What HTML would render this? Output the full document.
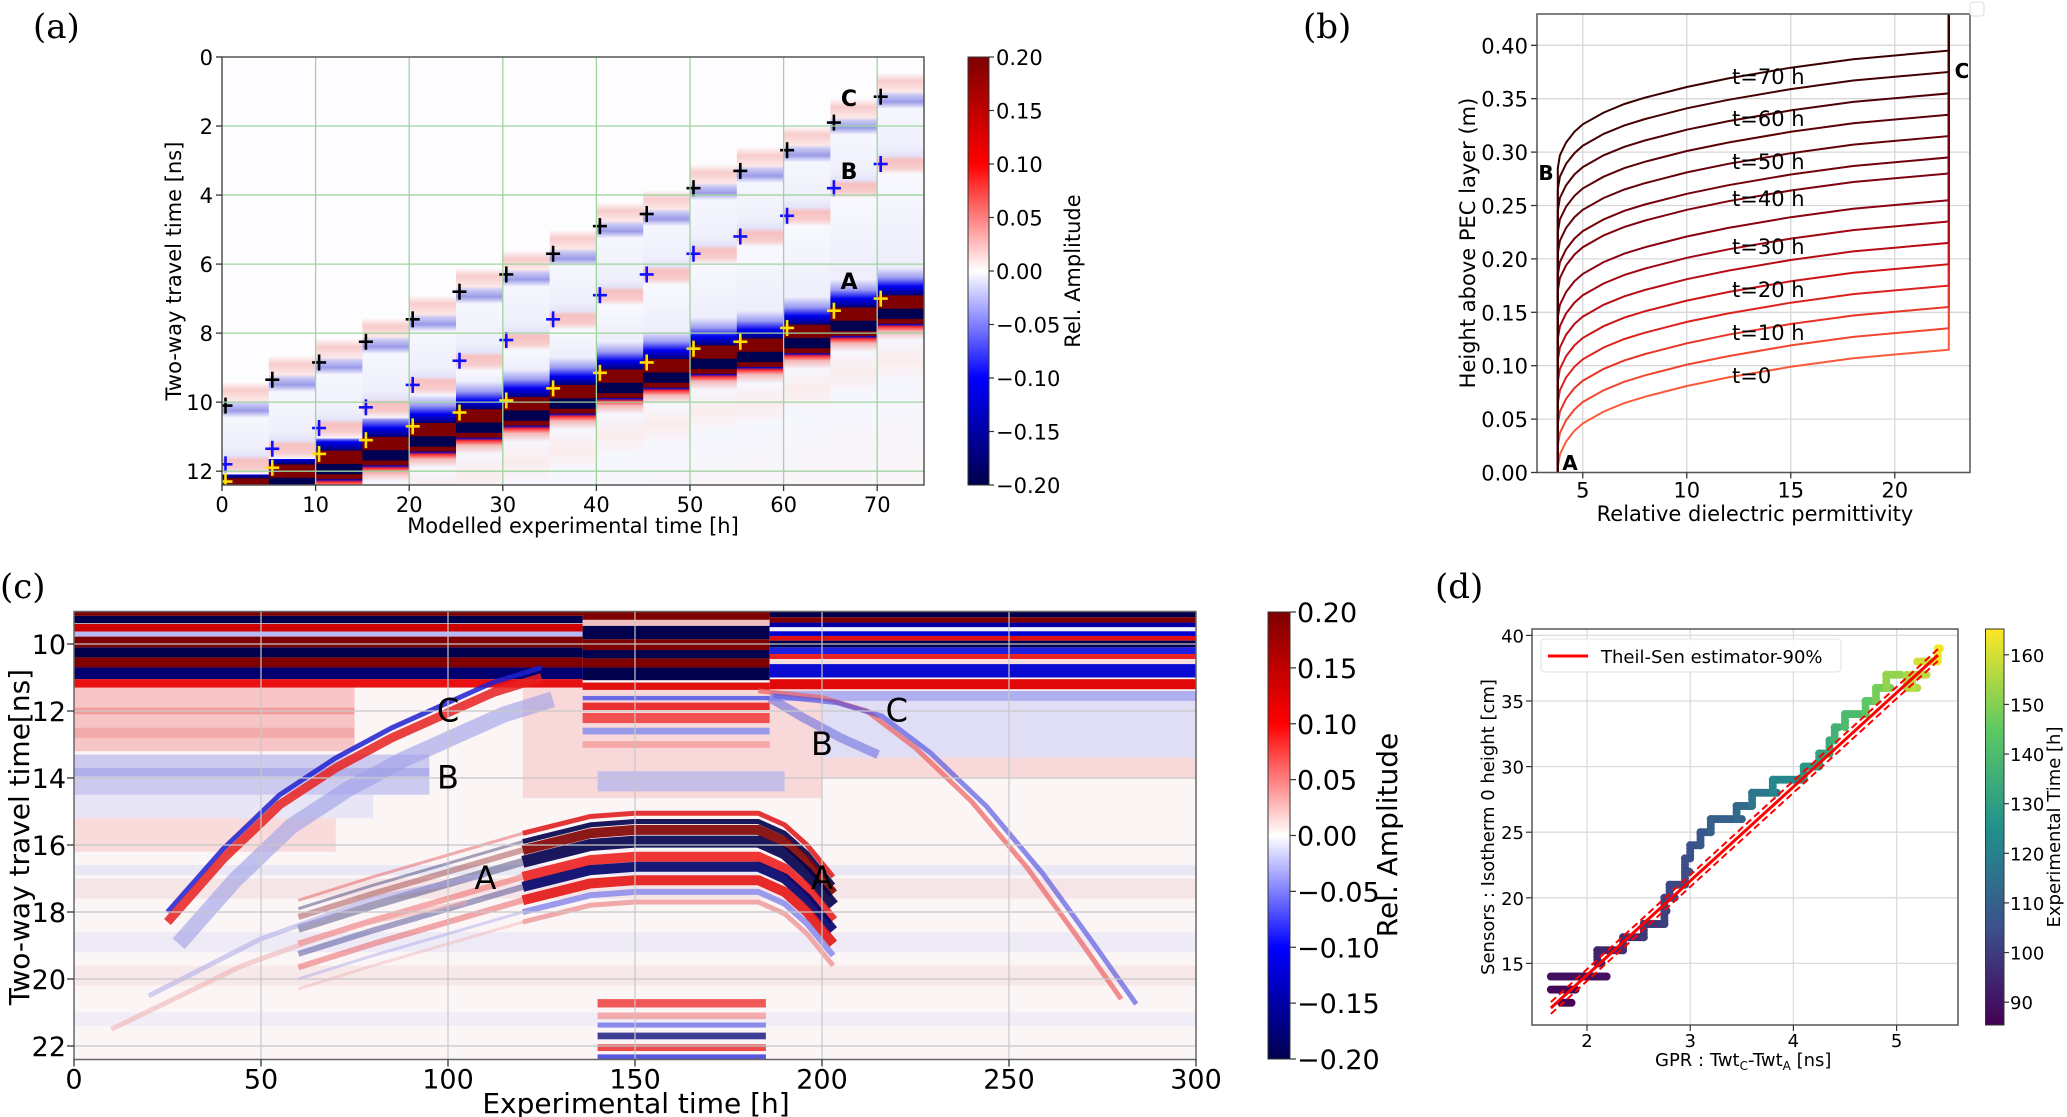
<!DOCTYPE html>
<html><head><meta charset="utf-8"><title>GPR figure</title>
<style>
html,body{margin:0;padding:0;background:#fff;}
svg{display:block;}
text{font-family:"DejaVu Sans","Liberation Sans",sans-serif;fill:#000;}
.pl{font-family:"DejaVu Serif","Liberation Serif",serif;}
</style></head>
<body>
<svg id="fig" xmlns="http://www.w3.org/2000/svg" width="2067" height="1117" viewBox="0 0 2067 1117">
<defs id="defs"></defs>
</svg>
<script>
// ---------- DATA ----------
// Panel (a): picked two-way travel times (ns) per modelled column
const aColumns = [0,1,2,3,4,5,6,7,8,9,10,11,12,13,14];
const aPickC = [10.1,9.35,8.85,8.25,7.6,6.8,6.3,5.7,4.9,4.55,3.8,3.3,2.7,1.9,1.15];
const aPickB = [11.8,11.35,10.75,10.15,9.5,8.8,8.2,7.6,6.9,6.3,5.7,5.2,4.6,3.8,3.1];
const aPickA = [12.3,11.9,11.5,11.1,10.7,10.3,9.95,9.6,9.15,8.85,8.45,8.25,7.85,7.35,7.0];
const aXTicks = [0,10,20,30,40,50,60,70];
const aYTicks = [0,2,4,6,8,10,12];
const cbTicks = [0.20,0.15,0.10,0.05,0.00,-0.05,-0.10,-0.15,-0.20];
// Panel (b)
const bTimes = [0,5,10,15,20,25,30,35,40,45,50,55,60,65,70];
const bEndHeights = [0.115,0.135,0.155,0.175,0.195,0.215,0.235,0.255,0.28,0.295,0.315,0.335,0.355,0.375,0.395];
const bShapeEps = [3.8,3.9,4.2,4.6,5,6,7,8,10,12,15,18,22.6];
const bShapeRise = [0,0.012,0.024,0.034,0.041,0.052,0.060,0.066,0.076,0.084,0.094,0.102,0.11];
const bXTicks = [5,10,15,20];
const bYTicks = [0.00,0.05,0.10,0.15,0.20,0.25,0.30,0.35,0.40];
const bLabels = ["t=70 h","t=60 h","t=50 h","t=40 h","t=30 h","t=20 h","t=10 h","t=0"];
const bLabelY = [76,118,161,198,246,289,332,375];
// Panel (c)
const cXTicks = [0,50,100,150,200,250,300];
const cYTicks = [10,12,14,16,18,20,22];
// Panel (d): staircase scatter
const dLevels = [12,13,14,15,16,17,18,19,20,21,22,23,24,25,26,27,28,29,30,31,32,33,34,35,36,37,36,37,38,39];
const dXStart = [1.75,1.65,1.65,2.1,2.1,2.35,2.55,2.75,2.75,2.8,2.95,2.95,3.0,3.1,3.2,3.45,3.6,3.8,4.1,4.25,4.35,4.4,4.5,4.7,4.8,4.9,5.1,5.15,5.2,5.4];
const dXEnd =   [1.85,1.9,2.2,2.15,2.35,2.55,2.75,2.78,2.85,2.95,3.0,3.0,3.1,3.2,3.5,3.6,3.85,4.1,4.25,4.35,4.4,4.45,4.7,4.8,4.95,5.05,5.2,5.3,5.35,5.42];
const dTimes = [86,87,89,92,94,97,99,101,102,103,104,104,105,107,110,113,117,122,127,131,134,137,140,145,148,152,155,157,160,164];
const dFitX = [1.65,5.4];
const dFitY = [11.6,38.5];
const dXTicks = [2,3,4,5];
const dYTicks = [15,20,25,30,35,40];
const dCTicks = [90,100,110,120,130,140,150,160];

// ---------- helpers ----------
const NS="http://www.w3.org/2000/svg";
const fig=document.getElementById('fig');
const defs=document.getElementById('defs');
function el(tag,attrs,parent,name,inter){
  const e=document.createElementNS(NS,tag);
  for(const k in attrs) e.setAttribute(k,attrs[k]);
  
  
  (parent||fig).appendChild(e);return e;
}
function tx(str,x,y,size,name,opt){
  opt=opt||{};
  const a={x:x,y:y,'font-size':size};
  if(opt.anchor) a['text-anchor']=opt.anchor;
  if(opt.weight) a['font-weight']=opt.weight;
  if(opt.rot!==undefined) a.transform='rotate('+opt.rot+' '+x+' '+y+')';
  if(opt.cls) a['class']=opt.cls;
  if(opt.fill) a.fill=opt.fill;
  const t=el('text',a,opt.parent||fig,name,false);
  t.textContent=str;return t;
}
function line(x1,y1,x2,y2,stroke,w,parent,name,extra){
  const a={x1:x1,y1:y1,x2:x2,y2:y2,stroke:stroke,'stroke-width':w};
  if(extra) for(const k in extra) a[k]=extra[k];
  return el('line',a,parent,name,false);
}
function hex(c){return [parseInt(c.substr(1,2),16),parseInt(c.substr(3,2),16),parseInt(c.substr(5,2),16)];}
function interp(stops,t){
  t=Math.max(0,Math.min(1,t));
  for(let i=0;i<stops.length-1;i++){
    if(t<=stops[i+1][0]){
      const f=(t-stops[i][0])/(stops[i+1][0]-stops[i][0]);
      const a=hex(stops[i][1]),b=hex(stops[i+1][1]);
      return 'rgb('+a.map((v,j)=>Math.round(v+(b[j]-v)*f)).join(',')+')';
    }
  }
  return stops[stops.length-1][1];
}
const sg=el('linearGradient',{id:'seis',x1:0,y1:0,x2:0,y2:1},defs,'seismic-gradient',false);
[[0,'#7f0000'],[0.25,'#ff0000'],[0.5,'#ffffff'],[0.75,'#0000ff'],[1,'#00004c']].forEach(s=>{
  el('stop',{offset:s[0],'stop-color':s[1]},sg,'gradient-stop',false);
});

// ================= PANEL (a) =================
const gA=el('g',{},fig,'panel-a',false);
const AX0=222,AX1=924,AY0=57,AY1=485;
const ax=h=>AX0+h*(AX1-AX0)/75;
const ay=ns=>AY0+ns*(AY1-AY0)/12.4;
tx('(a)',33,38,34,'panel-a-label',{cls:'pl',parent:gA});
el('clipPath',{id:'clipA'},defs,'clip-a',false);
el('rect',{x:AX0,y:AY0,width:AX1-AX0,height:AY1-AY0},document.getElementById('clipA'),'clip-a-rect',false);
const imgA=el('g',{'clip-path':'url(#clipA)'},gA,'panel-a-image',false);
el('rect',{x:AX0,y:AY0,width:AX1-AX0,height:AY1-AY0,fill:'#fdfdff'},imgA,'panel-a-background',false);
aColumns.forEach((k,i)=>{
  const c=aPickC[i],b=aPickB[i],a=aPickA[i];
  const raw=[[0,'#fdfdff'],[c-0.7,'#fdfdff'],[c-0.45,'#f8cccc'],[c-0.15,'#fde8e8'],[c-0.05,'#c8c8f4'],[c+0.15,'#9a9ae8'],[c+0.35,'#f6f6fe'],
    [b-0.5,'#f0f0fc'],[b-0.25,'#e4e4fa'],[b-0.12,'#f7c0c0'],[b+0.12,'#f8cccc'],[b+0.3,'#f8f8fe'],
    [a-0.9,'#eeeefc'],[a-0.6,'#9a9af2'],[a-0.35,'#0000f0'],[a-0.18,'#0000a0'],[a-0.1,'#000070'],[a-0.09,'#7f0000'],[a+0.28,'#7f0000'],
    [a+0.3,'#000050'],[a+0.58,'#000050'],[a+0.6,'#7f0000'],[a+0.72,'#7f0000'],[a+0.74,'#0000c0'],[a+0.82,'#ff3030'],
    [a+0.95,'#f4b8b8'],[a+1.2,'#f6f6fe'],[a+1.8,'#fbecec'],[a+2.4,'#f6f6fe'],[14,'#fcf4f4']];
  const id='colg'+k;
  const g=el('linearGradient',{id:id,gradientUnits:'userSpaceOnUse',x1:0,y1:ay(0),x2:0,y2:ay(14)},defs,'column-gradient',false);
  let prev=0;
  raw.forEach(s=>{let o=Math.max(prev,Math.min(1,s[0]/14));prev=o;el('stop',{offset:o,'stop-color':s[1]},g,'gradient-stop',false);});
  el('rect',{x:ax(5*k),y:AY0,width:ax(5*k+5)-ax(5*k)+0.5,height:AY1-AY0,fill:'url(#'+id+')'},imgA,'model-column',false);
});
aXTicks.slice(1).forEach(v=>line(ax(v),AY0,ax(v),AY1,'#9fd49f',1.3,gA,'a-grid-x'));
aYTicks.slice(1).forEach(v=>line(AX0,ay(v),AX1,ay(v),'#9fd49f',1.3,gA,'a-grid-y'));
function plus(x,y,col,parent,name){
  const g=el('g',{},parent,name,false);
  line(x-7,y,x+7,y,col,2.6,g,'plus-h');line(x,y-8,x,y+8,col,2.6,g,'plus-v');
}
aColumns.forEach((k,i)=>{
  const x=ax(5*k)+3.5;
  plus(x,ay(aPickC[i]),'#000',imgA,'pick-c-marker');
  plus(x,ay(aPickB[i]),'#1010ff',imgA,'pick-b-marker');
  plus(x,ay(aPickA[i]),'#ffe000',imgA,'pick-a-marker');
});
tx('C',849,106,22,'a-label-c',{anchor:'middle',weight:'bold',parent:gA});
tx('B',849,179,22,'a-label-b',{anchor:'middle',weight:'bold',parent:gA});
tx('A',849,289,22,'a-label-a',{anchor:'middle',weight:'bold',parent:gA});
el('rect',{x:AX0,y:AY0,width:AX1-AX0,height:AY1-AY0,fill:'none',stroke:'#555','stroke-width':1.5},gA,'a-axes-frame',false);
aXTicks.forEach(v=>{line(ax(v),AY1,ax(v),AY1+6,'#333',1.3,gA,'a-xtick');tx(String(v),ax(v),AY1+27,21,'a-xtick-label',{anchor:'middle',parent:gA});});
aYTicks.forEach(v=>{line(AX0-6,ay(v),AX0,ay(v),'#333',1.3,gA,'a-ytick');tx(String(v),AX0-9,ay(v)+8,21,'a-ytick-label',{anchor:'end',parent:gA});});
tx('Modelled experimental time [h]',573,533,21,'a-x-axis-title',{anchor:'middle',parent:gA});
tx('Two-way travel time [ns]',181,271,21,'a-y-axis-title',{anchor:'middle',rot:-90,parent:gA});
el('rect',{x:968,y:AY0,width:21,height:AY1-AY0,fill:'url(#seis)',stroke:'#333','stroke-width':1},gA,'a-colorbar',false);
cbTicks.forEach(v=>{const y=AY0+(0.2-v)/0.4*(AY1-AY0);line(989,y,994,y,'#333',1.2,gA,'a-cbar-tick');
  tx((v<0?'\u2212':'')+Math.abs(v).toFixed(2),996,y+8,21,'a-cbar-label',{parent:gA});});
tx('Rel. Amplitude',1080,271,21,'a-cbar-title',{anchor:'middle',rot:-90,parent:gA});

// ================= PANEL (b) =================
const gB=el('g',{},fig,'panel-b',false);
const BX0=1537,BX1=1970,BY0=14,BY1=472.5;
const bx=e=>BX0+(e-2.8)*20.8;
const by=v=>BY1-v*1068;
tx('(b)',1303,38,34,'panel-b-label',{cls:'pl',parent:gB});
bXTicks.forEach(v=>line(bx(v),BY0,bx(v),BY1,'#d8d8d8',1.3,gB,'b-grid-x'));
bYTicks.forEach(v=>line(BX0,by(v),BX1,by(v),'#d8d8d8',1.3,gB,'b-grid-y'));
const bCol=[[0,'#fb5a3a'],[0.25,'#d81818'],[0.5,'#8a0010'],[1,'#3a0000']];
bTimes.forEach((t,i)=>{
  const end=bEndHeights[i];const base=end-0.11;
  let d='M'+bx(3.8)+','+by(0)+' L'+bx(3.8)+','+by(Math.max(0,base));
  bShapeEps.forEach((e,j)=>{d+=' L'+bx(e).toFixed(1)+','+by(base+bShapeRise[j]).toFixed(1);});
  d+=' L'+bx(22.6)+','+(BY0);
  el('path',{d:d,fill:'none',stroke:interp(bCol,t/70),'stroke-width':2},gB,'profile-curve-t'+t,false);
});
bLabels.forEach((s,i)=>tx(s,1732,bLabelY[i]+8,21,'curve-label',{parent:gB}));
tx('B',1546,180,20,'b-label-b',{anchor:'middle',weight:'bold',parent:gB});
tx('A',1570,470,20,'b-label-a',{anchor:'middle',weight:'bold',parent:gB});
tx('C',1962,78,20,'b-label-c',{anchor:'middle',weight:'bold',parent:gB});
el('rect',{x:BX0,y:BY0,width:BX1-BX0,height:BY1-BY0,fill:'none',stroke:'#555','stroke-width':1.5},gB,'b-axes-frame',false);
el('rect',{x:1970,y:2,width:14,height:14,rx:3,fill:'#fff',stroke:'#ddd','stroke-width':1},gB,'b-empty-legend',false);
bXTicks.forEach(v=>{line(bx(v),BY1,bx(v),BY1+6,'#333',1.3,gB,'b-xtick');tx(String(v),bx(v),BY1+25,21,'b-xtick-label',{anchor:'middle',parent:gB});});
bYTicks.forEach(v=>{line(BX0-6,by(v),BX0,by(v),'#333',1.3,gB,'b-ytick');tx(v.toFixed(2),BX0-9,by(v)+8,21,'b-ytick-label',{anchor:'end',parent:gB});});
tx('Relative dielectric permittivity',1755,521,21,'b-x-axis-title',{anchor:'middle',parent:gB});
tx('Height above PEC layer (m)',1475,243,21,'b-y-axis-title',{anchor:'middle',rot:-90,parent:gB});

// ================= PANEL (c) =================
const gC=el('g',{},fig,'panel-c',false);
const CX0=74,CX1=1196,CY0=611.5,CY1=1059.5;
const cx=h=>CX0+h*3.74;
const cy=ns=>644+(ns-10)*33.5;
tx('(c)',0,598,34,'panel-c-label',{cls:'pl',parent:gC});
el('clipPath',{id:'clipC'},defs,'clip-c',false);
el('rect',{x:CX0,y:CY0,width:CX1-CX0,height:CY1-CY0},document.getElementById('clipC'),'clip-c-rect',false);
const imgC=el('g',{'clip-path':'url(#clipC)'},gC,'radargram',false);
el('rect',{x:CX0,y:CY0,width:CX1-CX0,height:CY1-CY0,fill:'#fbf5f6'},imgC,'radargram-background',false);
function band(h0,h1,n0,n1,col,op,name){el('rect',{x:cx(h0),y:cy(n0),width:cx(h1)-cx(h0),height:cy(n1)-cy(n0),fill:col,opacity:op},imgC,name,false);}
band(0,75,11.2,13.2,'#f6b4b4',0.75,'bg-pink-zone');
band(0,75,11.9,12.1,'#ee8080',0.6,'bg-pink-stripe');
band(0,75,12.5,12.8,'#f09090',0.5,'bg-pink-stripe');
band(0,95,13.3,14.5,'#c0c0ee',0.8,'bg-blue-zone');
band(0,95,13.7,13.95,'#9c9ce6',0.6,'bg-blue-stripe');
band(0,80,14.5,15.2,'#dcdcf6',0.6,'bg-blue-zone');
band(0,70,15.2,16.2,'#f8d0d0',0.7,'bg-pink-zone');
band(120,200,11.3,14.6,'#f6c0c0',0.55,'bg-pink-zone');
band(140,190,13.8,14.4,'#b8b8ee',0.8,'bg-blue-zone');
band(200,300,11.7,13.4,'#d4d4f4',0.7,'bg-blue-zone');
band(200,300,13.4,14.0,'#f6c4c4',0.6,'bg-pink-zone');
band(0,300,16.6,16.9,'#dcdcf4',0.5,'bg-blue-zone');
band(0,300,17.0,17.6,'#f2d6d6',0.5,'bg-pink-zone');
band(0,300,18.6,19.2,'#e2e2f6',0.5,'bg-blue-zone');
band(0,300,19.6,20.2,'#f4dcdc',0.5,'bg-pink-zone');
band(0,300,21.0,21.4,'#e6e6f8',0.5,'bg-blue-zone');
const leftBands=[[9.0,9.16,'#7f0000'],[9.16,9.38,'#00004c'],[9.4,9.63,'#cc0000'],[9.63,9.78,'#b8b8f4'],[9.78,10.1,'#7f0000'],[10.1,10.4,'#00004c'],[10.4,10.7,'#7f0000'],[10.7,11.05,'#000070'],[11.05,11.3,'#e81010']];
const midBands=[[9.0,9.28,'#7f0000'],[9.28,9.46,'#f0c0c0'],[9.46,9.86,'#00004c'],[9.86,10.18,'#7f0000'],[10.18,10.43,'#00004c'],[10.43,10.7,'#7f0000'],[10.7,11.08,'#00004c'],[11.15,11.37,'#e01010'],[11.55,11.68,'#6a6ae4'],[11.75,11.97,'#ea3030'],[12.06,12.36,'#f05050'],[12.5,12.7,'#9a9aea'],[12.9,13.1,'#f6a8a8']];
const rightBands=[[9.0,9.2,'#00004c'],[9.2,9.36,'#7f0000'],[9.36,9.5,'#0000a0'],[9.5,9.62,'#f0f0ff'],[9.62,9.76,'#0000d0'],[9.76,9.9,'#e01010'],[9.9,10.1,'#00004c'],[10.1,10.3,'#2020e0'],[10.3,10.45,'#e82020'],[10.45,10.6,'#f8e0e0'],[10.6,11.0,'#0a0ad0'],[11.05,11.35,'#e00808'],[11.4,11.7,'#b0b0f0']];
leftBands.forEach(b=>band(0,136,b[0],b[1],b[2],1,'top-band-left'));
midBands.forEach(b=>band(136,186,b[0],b[1],b[2],1,'top-band-middle'));
rightBands.forEach(b=>band(186,300,b[0],b[1],b[2],1,'top-band-right'));
function curve(pts,col,w,op,name){
  const d='M'+pts.map(p=>cx(p[0]).toFixed(1)+','+cy(p[1]).toFixed(1)).join(' L');
  el('path',{d:d,fill:'none',stroke:col,'stroke-width':w,opacity:op,'stroke-linejoin':'round','stroke-linecap':'butt'},imgC,name,false);
}
const cLeft=[[25,18.2],[40,16.3],[55,14.7],[70,13.6],[85,12.7],[100,11.95],[112,11.35],[125,10.9]];
curve(cLeft.map(p=>[p[0]+3,p[1]+0.75]),'#9c9ce8',16,0.6,'reflector-b-left');
curve(cLeft.map(p=>[p[0],p[1]-0.2]),'#2020d0',5,0.85,'reflector-c-left-blue');
curve(cLeft.map(p=>[p[0],p[1]+0.1]),'#e82020',9,0.85,'reflector-c-left-red');
const cRight=[[183,11.3],[200,11.5],[212,11.9],[225,13.0],[240,14.6],[255,16.6],[268,18.6],[280,20.5]];
curve(cRight.map(p=>[p[0],p[1]+0.1]),'#ee6060',5,0.7,'reflector-c-right-red');
curve(cRight.map(p=>[p[0]+4,p[1]+0.25]),'#5050e0',5,0.65,'reflector-c-right-blue');
curve([[186,11.6],[195,12.2],[205,12.8],[215,13.3]],'#7070e0',9,0.6,'reflector-b-right');
const aBandOffs=[-0.25,0,0.25,0.6,1.05,1.35,1.75,2.1,2.4];
const aBandCols=['#e02020','#00004c','#7f0000','#00004c','#ee2020','#00006a','#e41414','#9090ec','#f0a0a0'];
const aBandW=[5,5,10,12,10,10,10,6,5];
aBandOffs.forEach((o,i)=>{
  const y=15.3+o;
  curve([[60,y+2.6],[80,y+1.9],[100,y+1.25],[120,y+0.6]],aBandCols[i],Math.max(3,aBandW[i]-4),0.35,'reflector-a-band-left');
  curve([[120,y+0.6],[138,y+0.1],[150,y],[183,y],[190,y+0.35],[196,y+0.95],[203,y+1.9]],aBandCols[i],aBandW[i],0.9,'reflector-a-band');
});
curve([[20,20.5],[50,18.8],[80,17.6],[110,16.9]],'#a4a4ea',5,0.5,'faint-reflector');
curve([[10,21.5],[45,19.6],[75,18.4],[105,17.7]],'#f0a8a8',5,0.5,'faint-reflector');
const botBands=[[20.6,20.85,'#ee3030'],[21.0,21.2,'#f29a9a'],[21.3,21.45,'#7070e8'],[21.6,21.8,'#101080'],[21.95,22.15,'#e82020'],[22.25,22.45,'#3030d8']];
botBands.forEach(b=>band(140,185,b[0],b[1],b[2],0.8,'bottom-band'));
cXTicks.slice(1,-1).forEach(v=>line(cx(v),CY0,cx(v),CY1,'#c8c8c8',1.2,gC,'c-grid-x'));
cYTicks.forEach(v=>line(CX0,cy(v),CX1,cy(v),'#c8c8c8',1.2,gC,'c-grid-y'));
[['C',100,11.95],['B',100,13.95],['A',110,16.95],['B',200,12.95],['A',200,16.95],['C',220,11.95]].forEach(l=>
  tx(l[0],cx(l[1]),cy(l[2])+12,32,'c-reflector-label-'+l[0],{anchor:'middle',parent:gC}));
el('rect',{x:CX0,y:CY0,width:CX1-CX0,height:CY1-CY0,fill:'none',stroke:'#666','stroke-width':1.5},gC,'c-axes-frame',false);
cXTicks.forEach(v=>{line(cx(v),CY1,cx(v),CY1+7,'#333',1.3,gC,'c-xtick');tx(String(v),cx(v),CY1+29,27,'c-xtick-label',{anchor:'middle',parent:gC});});
cYTicks.forEach(v=>{line(CX0-7,cy(v),CX0,cy(v),'#333',1.3,gC,'c-ytick');tx(String(v),CX0-8,cy(v)+10,27,'c-ytick-label',{anchor:'end',parent:gC});});
tx('Experimental time [h]',636,1113,28,'c-x-axis-title',{anchor:'middle',parent:gC});
tx('Two-way travel time[ns]',29,837,28,'c-y-axis-title',{anchor:'middle',rot:-90,parent:gC});
el('rect',{x:1268,y:612,width:22,height:447,fill:'url(#seis)',stroke:'#333','stroke-width':1},gC,'c-colorbar',false);
cbTicks.forEach(v=>{const y=612+(0.2-v)/0.4*447;line(1290,y,1296,y,'#333',1.2,gC,'c-cbar-tick');
  tx((v<0?'\u2212':'')+Math.abs(v).toFixed(2),1297,y+10,27,'c-cbar-label',{parent:gC});});
tx('Rel. Amplitude',1397,835,28,'c-cbar-title',{anchor:'middle',rot:-90,parent:gC});

// ================= PANEL (d) =================
const gD=el('g',{},fig,'panel-d',false);
const DX0=1532,DX1=1958,DY0=629,DY1=1025;
const dx=v=>1587+(v-2)*103.2;
const dy=cm=>635.4-(cm-40)*13.12;
tx('(d)',1435,598,34,'panel-d-label',{cls:'pl',parent:gD});
dXTicks.forEach(v=>line(dx(v),DY0,dx(v),DY1,'#dcdcdc',1.3,gD,'d-grid-x'));
dYTicks.forEach(v=>line(DX0,dy(v),DX1,dy(v),'#dcdcdc',1.3,gD,'d-grid-y'));
const viridis=[[0,'#440154'],[0.25,'#3b528b'],[0.5,'#21918c'],[0.75,'#5ec962'],[1,'#fde725']];
const vnorm=t=>(t-85.4)/(165.2-85.4);
const ptsG=el('g',{},gD,'scatter-points',false);
dLevels.forEach((lv,i)=>{
  const col=interp(viridis,vnorm(dTimes[i]));
  for(let x=dXStart[i];x<=dXEnd[i]+1e-6;x+=0.02){
    el('circle',{cx:dx(x).toFixed(1),cy:dy(lv).toFixed(1),r:4,fill:col},ptsG,'scatter-point',false);
  }
  if(i>0 && Math.abs(dXStart[i]-dXEnd[i-1])<0.06){
    const l0=Math.min(lv,dLevels[i-1]),l1=Math.max(lv,dLevels[i-1]);
    for(let y=l0;y<=l1;y+=0.25) el('circle',{cx:dx(dXStart[i]).toFixed(1),cy:dy(y).toFixed(1),r:4,fill:col},ptsG,'scatter-point',false);
  }
});
[-0.45,0.45].forEach(o=>line(dx(dFitX[0]),dy(dFitY[0]+o),dx(dFitX[1]),dy(dFitY[1]+o),'#ff0000',2,gD,'theil-sen-bound',{'stroke-dasharray':'7,4'}));
line(dx(dFitX[0]),dy(dFitY[0]),dx(dFitX[1]),dy(dFitY[1]),'#ff0000',3,gD,'theil-sen-line');
el('rect',{x:DX0,y:DY0,width:DX1-DX0,height:DY1-DY0,fill:'none',stroke:'#555','stroke-width':1.5},gD,'d-axes-frame',false);
const lg=el('g',{},gD,'legend',false);
el('rect',{x:1541,y:639,width:300,height:33,rx:4,fill:'#fff',stroke:'#ddd','stroke-width':1,opacity:0.9},lg,'legend-box',false);
line(1548,656,1588,656,'#ff0000',3,lg,'legend-line');
tx('Theil-Sen estimator-90%',1601,663,18,'legend-entry',{parent:lg});
dXTicks.forEach(v=>{line(dx(v),DY1,dx(v),DY1+6,'#333',1.2,gD,'d-xtick');tx(String(v),dx(v),DY1+22,18,'d-xtick-label',{anchor:'middle',parent:gD});});
dYTicks.forEach(v=>{line(DX0-6,dy(v),DX0,dy(v),'#333',1.2,gD,'d-ytick');tx(String(v),DX0-8,dy(v)+7,18,'d-ytick-label',{anchor:'end',parent:gD});});
const xl=tx('GPR : Twt',1655,1066,18,'d-x-axis-title',{parent:gD});
const s1=el('tspan',{'font-size':12,dy:4},xl,'subscript-c',false);s1.textContent='C';
const s2=el('tspan',{dy:-4},xl,'title-part',false);s2.textContent='-Twt';
const s3=el('tspan',{'font-size':12,dy:4},xl,'subscript-a',false);s3.textContent='A';
const s4=el('tspan',{dy:-4},xl,'title-part',false);s4.textContent=' [ns]';
tx('Sensors : Isotherm 0 height [cm]',1494,827,18,'d-y-axis-title',{anchor:'middle',rot:-90,parent:gD});
const vg=el('linearGradient',{id:'vir',x1:0,y1:1,x2:0,y2:0},defs,'viridis-gradient',false);
viridis.forEach(s=>el('stop',{offset:s[0],'stop-color':s[1]},vg,'gradient-stop',false));
el('rect',{x:1985.5,y:DY0,width:18.5,height:DY1-DY0,fill:'url(#vir)',stroke:'#333','stroke-width':1},gD,'d-colorbar',false);
dCTicks.forEach(v=>{const y=DY1-vnorm(v)*(DY1-DY0);line(2004,y,2009,y,'#333',1.2,gD,'d-cbar-tick');tx(String(v),2010,y+7,18,'d-cbar-label',{parent:gD});});
tx('Experimental Time [h]',2060,827,18,'d-cbar-title',{anchor:'middle',rot:-90,parent:gD});
</script>
</body></html>
